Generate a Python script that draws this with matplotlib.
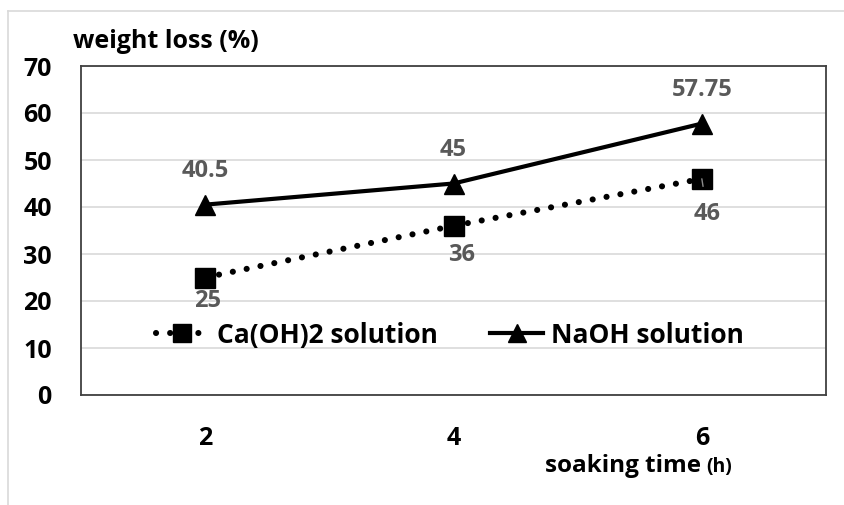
import matplotlib
matplotlib.use("Agg")
import matplotlib.pyplot as plt
from matplotlib.lines import Line2D

plt.rcParams['font.family'] = ['Open Sans', 'DejaVu Sans']

categories = ["2", "4", "6"]
caoh2 = [25, 36, 46]
naoh = [40.5, 45, 57.75]
caoh2_labels = ["25", "36", "46"]
naoh_labels = ["40.5", "45", "57.75"]
yticks = [0, 10, 20, 30, 40, 50, 60, 70]

# label offsets (points) for placement only
naoh_off = [(0, 24), (0, 24), (0, 24)]
caoh2_off = [(2, -17), (6, -21), (4, -25)]

fig = plt.figure(figsize=(8.44, 5.05), dpi=100)
fig.add_artist(Line2D([8/844, 1], [1-11/505, 1-11/505], color='#d9d9d9', lw=1.2))
fig.add_artist(Line2D([8/844, 8/844], [0, 1-11/505], color='#d9d9d9', lw=1.2))

ax = fig.add_axes([81/844, 1-395/505, (826-81)/844, (395-66)/505])
x = list(range(len(categories)))

ax.plot(x, caoh2, color='black', lw=4.4, linestyle=(0, (0.01, 2.3)), dash_capstyle='round',
        marker='s', markersize=14, label='Ca(OH)2 solution', zorder=3)
ax.plot(x, naoh, color='black', lw=3, marker='^', markersize=14, label='NaOH solution', zorder=3)

ax.set_xlim(-0.5, 2.5)
ax.set_ylim(0, 70)
ax.set_yticks(yticks)
ax.set_xticks(x)
ax.set_xticklabels(categories)
ax.grid(axis='y', color='#d9d9d9', lw=1.2)
ax.set_axisbelow(True)
for s in ax.spines.values():
    s.set_color('#404040')
    s.set_linewidth(1.3)
ax.tick_params(length=0)
ax.tick_params(axis='y', pad=21, labelsize=18)
ax.tick_params(axis='x', pad=22, labelsize=18)
for lbl in ax.get_xticklabels() + ax.get_yticklabels():
    lbl.set_fontweight('bold')

for xi, v, t, off in zip(x, naoh, naoh_labels, naoh_off):
    ax.annotate(t, (xi, v), xytext=off, textcoords='offset points', ha='center', va='center',
                fontsize=17, fontweight='bold', color='#595959')
for i, (xi, v, t, off) in enumerate(zip(x, caoh2, caoh2_labels, caoh2_off)):
    props = dict(arrowstyle='-', color='#8c8c8c', lw=1.0, shrinkA=9, shrinkB=0) if i == 2 else None
    ax.annotate(t, (xi, v), xytext=off, textcoords='offset points', ha='center', va='center',
                fontsize=17, fontweight='bold', color='#595959', arrowprops=props, zorder=4)

leg = ax.legend(loc='center', bbox_to_anchor=(0.495, 0.182), ncol=2, frameon=False,
                prop={'size': 19, 'weight': 'bold'}, handlelength=2.0, columnspacing=2.0,
                handletextpad=0.3, markerscale=0.95)

fig.text(73/844, 1-42/505, 'weight loss (%)', fontsize=18, fontweight='bold', va='center', ha='left')
fig.text(545/844, 1-472/505, 'soaking time', fontsize=17.5, fontweight='bold', va='baseline', ha='left')
fig.text(706/844, 1-472/505, '(h)', fontsize=14, fontweight='bold', va='baseline', ha='left')

fig.savefig('out.png', dpi=100)
